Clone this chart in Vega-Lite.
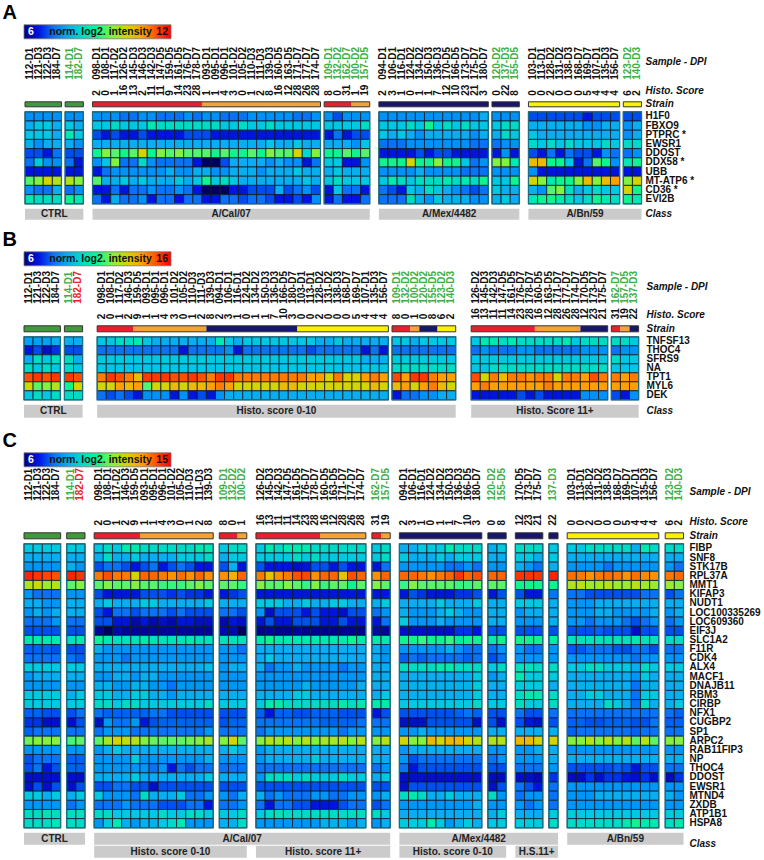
{"$schema":"https://vega.github.io/schema/vega-lite/v6.json","padding":{"left":2,"top":2.8,"right":0,"bottom":0},"background":"white",
"config":{"view":{"stroke":null},"axis":{"ticks":false,"domain":false,"grid":false,"title":null,"labelFont":"Liberation Sans","labelFontWeight":"bold","labelFontSize":10,"labelPadding":3,"labelColor":"#111","labelOverlap":false,"labelLimit":0},"text":{"font":"Liberation Sans","fontWeight":"bold","fontSize":10}},
"datasets":{
"sA":[{"s":"112-D1","st":"Ctrl","g":1,"c":"CTRL","t":"m"},{"s":"121-D3","st":"Ctrl","g":1,"c":"CTRL","t":"m"},{"s":"122-D3","st":"Ctrl","g":1,"c":"CTRL","t":"m"},{"s":"184-D7","st":"Ctrl","g":1,"c":"CTRL","t":"m"},{"s":"114-D1","st":"Ctrl","g":2,"c":"CTRL","t":"v"},{"s":"182-D7","st":"Ctrl","g":2,"c":"CTRL","t":"v"},
{"s":"098-D1","h":2,"st":"Cal-a","g":3,"c":"A/Cal/07","t":"m"},{"s":"108-D1","h":0,"st":"Cal-a","g":3,"c":"A/Cal/07","t":"m"},{"s":"117-D2","h":1,"st":"Cal-a","g":3,"c":"A/Cal/07","t":"m"},{"s":"126-D2","h":16,"st":"Cal-a","g":3,"c":"A/Cal/07","t":"m"},{"s":"145-D3","h":13,"st":"Cal-a","g":3,"c":"A/Cal/07","t":"m"},{"s":"146-D3","h":2,"st":"Cal-a","g":3,"c":"A/Cal/07","t":"m"},{"s":"142-D3","h":11,"st":"Cal-a","g":3,"c":"A/Cal/07","t":"m"},{"s":"147-D5","h":11,"st":"Cal-a","g":3,"c":"A/Cal/07","t":"m"},{"s":"159-D5","h":9,"st":"Cal-a","g":3,"c":"A/Cal/07","t":"m"},{"s":"161-D5","h":14,"st":"Cal-a","g":3,"c":"A/Cal/07","t":"m"},{"s":"176-D7","h":23,"st":"Cal-a","g":3,"c":"A/Cal/07","t":"m"},{"s":"178-D7","h":28,"st":"Cal-a","g":3,"c":"A/Cal/07","t":"m"},
{"s":"093-D1","h":1,"st":"Cal-b","g":3,"c":"A/Cal/07","t":"m"},{"s":"095-D1","h":1,"st":"Cal-b","g":3,"c":"A/Cal/07","t":"m"},{"s":"096-D1","h":4,"st":"Cal-b","g":3,"c":"A/Cal/07","t":"m"},{"s":"101-D2","h":3,"st":"Cal-b","g":3,"c":"A/Cal/07","t":"m"},{"s":"105-D2","h":0,"st":"Cal-b","g":3,"c":"A/Cal/07","t":"m"},{"s":"110-D3","h":1,"st":"Cal-b","g":3,"c":"A/Cal/07","t":"m"},{"s":"111-D3","h":2,"st":"Cal-b","g":3,"c":"A/Cal/07","t":"m"},{"s":"139-D3","h":8,"st":"Cal-b","g":3,"c":"A/Cal/07","t":"m"},{"s":"160-D5","h":16,"st":"Cal-b","g":3,"c":"A/Cal/07","t":"m"},{"s":"163-D5","h":12,"st":"Cal-b","g":3,"c":"A/Cal/07","t":"m"},{"s":"171-D7","h":28,"st":"Cal-b","g":3,"c":"A/Cal/07","t":"m"},{"s":"177-D7","h":26,"st":"Cal-b","g":3,"c":"A/Cal/07","t":"m"},{"s":"174-D7","h":28,"st":"Cal-b","g":3,"c":"A/Cal/07","t":"m"},
{"s":"109-D1","h":8,"st":"Cal-a","g":4,"c":"A/Cal/07","t":"v"},{"s":"132-D2","h":0,"st":"Cal-a","g":4,"c":"A/Cal/07","t":"v"},{"s":"162-D7","h":31,"st":"Cal-a","g":4,"c":"A/Cal/07","t":"v"},{"s":"100-D2","h":1,"st":"Cal-b","g":4,"c":"A/Cal/07","t":"v"},{"s":"157-D5","h":19,"st":"Cal-b","g":4,"c":"A/Cal/07","t":"v"},
{"s":"094-D1","h":2,"st":"Mex","g":5,"c":"A/Mex/4482","t":"m"},{"s":"106-D1","h":3,"st":"Mex","g":5,"c":"A/Mex/4482","t":"m"},{"s":"116-D1","h":1,"st":"Mex","g":5,"c":"A/Mex/4482","t":"m"},{"s":"124-D2","h":0,"st":"Mex","g":5,"c":"A/Mex/4482","t":"m"},{"s":"134-D2","h":1,"st":"Mex","g":5,"c":"A/Mex/4482","t":"m"},{"s":"150-D3","h":1,"st":"Mex","g":5,"c":"A/Mex/4482","t":"m"},{"s":"136-D3","h":7,"st":"Mex","g":5,"c":"A/Mex/4482","t":"m"},{"s":"170-D5","h":12,"st":"Mex","g":5,"c":"A/Mex/4482","t":"m"},{"s":"166-D5","h":10,"st":"Mex","g":5,"c":"A/Mex/4482","t":"m"},{"s":"173-D7","h":23,"st":"Mex","g":5,"c":"A/Mex/4482","t":"m"},{"s":"175-D7","h":21,"st":"Mex","g":5,"c":"A/Mex/4482","t":"m"},{"s":"180-D7","h":3,"st":"Mex","g":5,"c":"A/Mex/4482","t":"m"},
{"s":"120-D2","h":0,"st":"Mex","g":6,"c":"A/Mex/4482","t":"v"},{"s":"137-D3","h":22,"st":"Mex","g":6,"c":"A/Mex/4482","t":"v"},{"s":"155-D5","h":8,"st":"Mex","g":6,"c":"A/Mex/4482","t":"v"},
{"s":"103-D1","h":0,"st":"Bn","g":7,"c":"A/Bn/59","t":"m"},{"s":"113-D1","h":0,"st":"Bn","g":7,"c":"A/Bn/59","t":"m"},{"s":"128-D2","h":2,"st":"Bn","g":7,"c":"A/Bn/59","t":"m"},{"s":"131-D2","h":0,"st":"Bn","g":7,"c":"A/Bn/59","t":"m"},{"s":"138-D3","h":0,"st":"Bn","g":7,"c":"A/Bn/59","t":"m"},{"s":"168-D7","h":0,"st":"Bn","g":7,"c":"A/Bn/59","t":"m"},{"s":"169-D7","h":5,"st":"Bn","g":7,"c":"A/Bn/59","t":"m"},{"s":"107-D1","h":4,"st":"Bn","g":7,"c":"A/Bn/59","t":"m"},{"s":"135-D3","h":4,"st":"Bn","g":7,"c":"A/Bn/59","t":"m"},{"s":"156-D7","h":4,"st":"Bn","g":7,"c":"A/Bn/59","t":"m"},
{"s":"123-D2","h":6,"st":"Bn","g":8,"c":"A/Bn/59","t":"v"},{"s":"140-D3","h":2,"st":"Bn","g":8,"c":"A/Bn/59","t":"v"}],
"sB":[{"s":"112-D1","st":"Ctrl","g":1,"c":"CTRL","t":"m"},{"s":"121-D3","st":"Ctrl","g":1,"c":"CTRL","t":"m"},{"s":"122-D3","st":"Ctrl","g":1,"c":"CTRL","t":"m"},{"s":"184-D7","st":"Ctrl","g":1,"c":"CTRL","t":"m"},{"s":"114-D1","st":"Ctrl","g":2,"c":"CTRL","t":"v"},{"s":"182-D7","st":"Ctrl","g":2,"c":"CTRL","t":"o"},
{"s":"098-D1","h":2,"st":"Cal-a","g":3,"c":"Histo. score 0-10","t":"m"},{"s":"108-D1","h":0,"st":"Cal-a","g":3,"c":"Histo. score 0-10","t":"m"},{"s":"117-D2","h":1,"st":"Cal-a","g":3,"c":"Histo. score 0-10","t":"m"},{"s":"146-D3","h":2,"st":"Cal-a","g":3,"c":"Histo. score 0-10","t":"m"},{"s":"159-D5","h":9,"st":"Cal-b","g":3,"c":"Histo. score 0-10","t":"m"},{"s":"093-D1","h":1,"st":"Cal-b","g":3,"c":"Histo. score 0-10","t":"m"},{"s":"095-D1","h":1,"st":"Cal-b","g":3,"c":"Histo. score 0-10","t":"m"},{"s":"096-D1","h":4,"st":"Cal-b","g":3,"c":"Histo. score 0-10","t":"m"},{"s":"101-D2","h":3,"st":"Cal-b","g":3,"c":"Histo. score 0-10","t":"m"},{"s":"105-D2","h":0,"st":"Cal-b","g":3,"c":"Histo. score 0-10","t":"m"},{"s":"110-D3","h":1,"st":"Cal-b","g":3,"c":"Histo. score 0-10","t":"m"},{"s":"111-D3","h":2,"st":"Cal-b","g":3,"c":"Histo. score 0-10","t":"m"},{"s":"139-D3","h":8,"st":"Mex","g":3,"c":"Histo. score 0-10","t":"m"},
{"s":"094-D1","h":2,"st":"Mex","g":3,"c":"Histo. score 0-10","t":"m"},{"s":"106-D1","h":3,"st":"Mex","g":3,"c":"Histo. score 0-10","t":"m"},{"s":"116-D1","h":1,"st":"Mex","g":3,"c":"Histo. score 0-10","t":"m"},{"s":"124-D2","h":0,"st":"Mex","g":3,"c":"Histo. score 0-10","t":"m"},{"s":"134-D2","h":1,"st":"Mex","g":3,"c":"Histo. score 0-10","t":"m"},{"s":"150-D3","h":1,"st":"Mex","g":3,"c":"Histo. score 0-10","t":"m"},{"s":"136-D3","h":7,"st":"Mex","g":3,"c":"Histo. score 0-10","t":"m"},{"s":"166-D5","h":10,"st":"Mex","g":3,"c":"Histo. score 0-10","t":"m"},{"s":"180-D7","h":3,"st":"Mex","g":3,"c":"Histo. score 0-10","t":"m"},
{"s":"103-D1","h":0,"st":"Bn","g":3,"c":"Histo. score 0-10","t":"m"},{"s":"113-D1","h":0,"st":"Bn","g":3,"c":"Histo. score 0-10","t":"m"},{"s":"128-D2","h":2,"st":"Bn","g":3,"c":"Histo. score 0-10","t":"m"},{"s":"131-D2","h":0,"st":"Bn","g":3,"c":"Histo. score 0-10","t":"m"},{"s":"138-D3","h":0,"st":"Bn","g":3,"c":"Histo. score 0-10","t":"m"},{"s":"168-D7","h":0,"st":"Bn","g":3,"c":"Histo. score 0-10","t":"m"},{"s":"169-D7","h":5,"st":"Bn","g":3,"c":"Histo. score 0-10","t":"m"},{"s":"107-D1","h":4,"st":"Bn","g":3,"c":"Histo. score 0-10","t":"m"},{"s":"135-D3","h":4,"st":"Bn","g":3,"c":"Histo. score 0-10","t":"m"},{"s":"156-D7","h":4,"st":"Bn","g":3,"c":"Histo. score 0-10","t":"m"},
{"s":"109-D1","h":8,"st":"Cal-a","g":4,"c":"Histo. score 0-10","t":"v"},{"s":"132-D2","h":0,"st":"Cal-a","g":4,"c":"Histo. score 0-10","t":"v"},{"s":"100-D2","h":1,"st":"Cal-b","g":4,"c":"Histo. score 0-10","t":"v"},{"s":"120-D2","h":0,"st":"Mex","g":4,"c":"Histo. score 0-10","t":"v"},{"s":"155-D5","h":8,"st":"Mex","g":4,"c":"Histo. score 0-10","t":"v"},{"s":"123-D2","h":6,"st":"Bn","g":4,"c":"Histo. score 0-10","t":"v"},{"s":"140-D3","h":2,"st":"Bn","g":4,"c":"Histo. score 0-10","t":"v"},
{"s":"126-D2","h":16,"st":"Cal-a","g":5,"c":"Histo. Score 11+","t":"m"},{"s":"145-D3","h":13,"st":"Cal-a","g":5,"c":"Histo. Score 11+","t":"m"},{"s":"142-D3","h":11,"st":"Cal-a","g":5,"c":"Histo. Score 11+","t":"m"},{"s":"147-D5","h":11,"st":"Cal-a","g":5,"c":"Histo. Score 11+","t":"m"},{"s":"161-D5","h":14,"st":"Cal-a","g":5,"c":"Histo. Score 11+","t":"m"},{"s":"176-D7","h":23,"st":"Cal-a","g":5,"c":"Histo. Score 11+","t":"m"},{"s":"178-D7","h":28,"st":"Cal-a","g":5,"c":"Histo. Score 11+","t":"m"},{"s":"160-D5","h":16,"st":"Cal-b","g":5,"c":"Histo. Score 11+","t":"m"},{"s":"163-D5","h":12,"st":"Cal-b","g":5,"c":"Histo. Score 11+","t":"m"},{"s":"171-D7","h":28,"st":"Cal-b","g":5,"c":"Histo. Score 11+","t":"m"},{"s":"177-D7","h":26,"st":"Cal-b","g":5,"c":"Histo. Score 11+","t":"m"},{"s":"174-D7","h":28,"st":"Cal-b","g":5,"c":"Histo. Score 11+","t":"m"},{"s":"170-D5","h":12,"st":"Mex","g":5,"c":"Histo. Score 11+","t":"m"},{"s":"173-D7","h":23,"st":"Mex","g":5,"c":"Histo. Score 11+","t":"m"},{"s":"175-D7","h":21,"st":"Mex","g":5,"c":"Histo. Score 11+","t":"m"},
{"s":"162-D7","h":31,"st":"Cal-a","g":6,"c":"Histo. Score 11+","t":"v"},{"s":"157-D5","h":19,"st":"Cal-b","g":6,"c":"Histo. Score 11+","t":"v"},{"s":"137-D3","h":22,"st":"Mex","g":6,"c":"Histo. Score 11+","t":"v"}],
"sC":[{"s":"112-D1","st":"Ctrl","g":1,"c":"CTRL","t":"m"},{"s":"121-D3","st":"Ctrl","g":1,"c":"CTRL","t":"m"},{"s":"122-D3","st":"Ctrl","g":1,"c":"CTRL","t":"m"},{"s":"184-D7","st":"Ctrl","g":1,"c":"CTRL","t":"m"},{"s":"114-D1","st":"Ctrl","g":2,"c":"CTRL","t":"v"},{"s":"182-D7","st":"Ctrl","g":2,"c":"CTRL","t":"o"},
{"s":"098-D1","h":2,"st":"Cal-a","g":3,"c":"A/Cal/07","d":"Histo. score 0-10","t":"m"},{"s":"108-D1","h":0,"st":"Cal-a","g":3,"c":"A/Cal/07","d":"Histo. score 0-10","t":"m"},{"s":"117-D2","h":1,"st":"Cal-a","g":3,"c":"A/Cal/07","d":"Histo. score 0-10","t":"m"},{"s":"146-D3","h":2,"st":"Cal-a","g":3,"c":"A/Cal/07","d":"Histo. score 0-10","t":"m"},{"s":"159-D5","h":9,"st":"Cal-a","g":3,"c":"A/Cal/07","d":"Histo. score 0-10","t":"m"},{"s":"093-D1","h":1,"st":"Cal-b","g":3,"c":"A/Cal/07","d":"Histo. score 0-10","t":"m"},{"s":"095-D1","h":1,"st":"Cal-b","g":3,"c":"A/Cal/07","d":"Histo. score 0-10","t":"m"},{"s":"096-D1","h":4,"st":"Cal-b","g":3,"c":"A/Cal/07","d":"Histo. score 0-10","t":"m"},{"s":"101-D2","h":3,"st":"Cal-b","g":3,"c":"A/Cal/07","d":"Histo. score 0-10","t":"m"},{"s":"105-D2","h":0,"st":"Cal-b","g":3,"c":"A/Cal/07","d":"Histo. score 0-10","t":"m"},{"s":"110-D3","h":1,"st":"Cal-b","g":3,"c":"A/Cal/07","d":"Histo. score 0-10","t":"m"},{"s":"111-D3","h":2,"st":"Cal-b","g":3,"c":"A/Cal/07","d":"Histo. score 0-10","t":"m"},{"s":"139-D3","h":8,"st":"Cal-b","g":3,"c":"A/Cal/07","d":"Histo. score 0-10","t":"m"},
{"s":"109-D1","h":8,"st":"Cal-a","g":4,"c":"A/Cal/07","d":"Histo. score 0-10","t":"v"},{"s":"132-D2","h":0,"st":"Cal-a","g":4,"c":"A/Cal/07","d":"Histo. score 0-10","t":"v"},{"s":"100-D2","h":1,"st":"Cal-b","g":4,"c":"A/Cal/07","d":"Histo. score 0-10","t":"v"},
{"s":"126-D2","h":16,"st":"Cal-a","g":5,"c":"A/Cal/07","d":"Histo. score 11+","t":"m"},{"s":"145-D3","h":13,"st":"Cal-a","g":5,"c":"A/Cal/07","d":"Histo. score 11+","t":"m"},{"s":"142-D3","h":11,"st":"Cal-a","g":5,"c":"A/Cal/07","d":"Histo. score 11+","t":"m"},{"s":"147-D5","h":11,"st":"Cal-a","g":5,"c":"A/Cal/07","d":"Histo. score 11+","t":"m"},{"s":"161-D5","h":14,"st":"Cal-a","g":5,"c":"A/Cal/07","d":"Histo. score 11+","t":"m"},{"s":"176-D7","h":23,"st":"Cal-a","g":5,"c":"A/Cal/07","d":"Histo. score 11+","t":"m"},{"s":"178-D7","h":28,"st":"Cal-a","g":5,"c":"A/Cal/07","d":"Histo. score 11+","t":"m"},{"s":"160-D5","h":16,"st":"Cal-b","g":5,"c":"A/Cal/07","d":"Histo. score 11+","t":"m"},{"s":"163-D5","h":12,"st":"Cal-b","g":5,"c":"A/Cal/07","d":"Histo. score 11+","t":"m"},{"s":"171-D7","h":28,"st":"Cal-b","g":5,"c":"A/Cal/07","d":"Histo. score 11+","t":"m"},{"s":"177-D7","h":26,"st":"Cal-b","g":5,"c":"A/Cal/07","d":"Histo. score 11+","t":"m"},{"s":"174-D7","h":28,"st":"Cal-b","g":5,"c":"A/Cal/07","d":"Histo. score 11+","t":"m"},
{"s":"162-D7","h":31,"st":"Cal-a","g":6,"c":"A/Cal/07","d":"Histo. score 11+","t":"v"},{"s":"157-D5","h":19,"st":"Cal-b","g":6,"c":"A/Cal/07","d":"Histo. score 11+","t":"v"},
{"s":"094-D1","h":2,"st":"Mex","g":7,"c":"A/Mex/4482","d":"Histo. score 0-10","t":"m"},{"s":"106-D1","h":3,"st":"Mex","g":7,"c":"A/Mex/4482","d":"Histo. score 0-10","t":"m"},{"s":"116-D1","h":1,"st":"Mex","g":7,"c":"A/Mex/4482","d":"Histo. score 0-10","t":"m"},{"s":"124-D2","h":0,"st":"Mex","g":7,"c":"A/Mex/4482","d":"Histo. score 0-10","t":"m"},{"s":"134-D2","h":1,"st":"Mex","g":7,"c":"A/Mex/4482","d":"Histo. score 0-10","t":"m"},{"s":"150-D3","h":1,"st":"Mex","g":7,"c":"A/Mex/4482","d":"Histo. score 0-10","t":"m"},{"s":"136-D3","h":7,"st":"Mex","g":7,"c":"A/Mex/4482","d":"Histo. score 0-10","t":"m"},{"s":"166-D5","h":10,"st":"Mex","g":7,"c":"A/Mex/4482","d":"Histo. score 0-10","t":"m"},{"s":"180-D7","h":3,"st":"Mex","g":7,"c":"A/Mex/4482","d":"Histo. score 0-10","t":"m"},
{"s":"120-D2","h":0,"st":"Mex","g":8,"c":"A/Mex/4482","d":"Histo. score 0-10","t":"v"},{"s":"155-D5","h":8,"st":"Mex","g":8,"c":"A/Mex/4482","d":"Histo. score 0-10","t":"v"},
{"s":"170-D5","h":12,"st":"Mex","g":9,"c":"A/Mex/4482","d":"H.S.11+","t":"m"},{"s":"173-D7","h":23,"st":"Mex","g":9,"c":"A/Mex/4482","d":"H.S.11+","t":"m"},{"s":"175-D7","h":21,"st":"Mex","g":9,"c":"A/Mex/4482","d":"H.S.11+","t":"m"},
{"s":"137-D3","h":22,"st":"Mex","g":10,"c":"A/Mex/4482","d":"H.S.11+","t":"v"},
{"s":"103-D1","h":0,"st":"Bn","g":11,"c":"A/Bn/59","t":"m"},{"s":"113-D1","h":0,"st":"Bn","g":11,"c":"A/Bn/59","t":"m"},{"s":"128-D2","h":2,"st":"Bn","g":11,"c":"A/Bn/59","t":"m"},{"s":"131-D2","h":0,"st":"Bn","g":11,"c":"A/Bn/59","t":"m"},{"s":"138-D3","h":0,"st":"Bn","g":11,"c":"A/Bn/59","t":"m"},{"s":"168-D7","h":0,"st":"Bn","g":11,"c":"A/Bn/59","t":"m"},{"s":"169-D7","h":5,"st":"Bn","g":11,"c":"A/Bn/59","t":"m"},{"s":"107-D1","h":4,"st":"Bn","g":11,"c":"A/Bn/59","t":"m"},{"s":"135-D3","h":4,"st":"Bn","g":11,"c":"A/Bn/59","t":"m"},{"s":"156-D7","h":4,"st":"Bn","g":11,"c":"A/Bn/59","t":"m"},
{"s":"123-D2","h":6,"st":"Bn","g":12,"c":"A/Bn/59","t":"v"},{"s":"140-D3","h":2,"st":"Bn","g":12,"c":"A/Bn/59","t":"v"}],
"hA":[
{"n":"H1F0","v":[7.5,7.5,7.5,7.5,7.5,7.5,7.5,7.5,7.5,7.2,7.2,7.5,7.5,7.2,7.2,7.2,7.5,7.2,7.5,7.5,7.2,7.2,7.2,7.5,7.5,7.5,7.5,7.5,7.2,7.2,7.5,7.5,6.9,7.5,7.5,7.5,7.5,7.5,7.5,7.5,7.5,7.5,7.5,7.5,7.5,7.5,7.5,7.8,7.5,7.5,7.5,6.9,6.9,6.9,6.9,6.9,6.9,6.6,6.9,6.9,6.9,6.9,6.9]},
{"n":"FBXO9","v":[7.8,8.1,8.1,7.8,8.1,7.8,8.1,8.1,8.4,8.1,8.1,8.1,8.7,8.4,8.4,8.4,8.4,8.4,8.4,8.4,8.1,8.1,8.4,8.1,8.1,8.4,8.1,8.1,8.1,8.1,8.1,8.1,8.1,8.1,8.1,8.4,8.1,8.1,8.1,8.4,8.1,9,8.1,8.4,8.1,8.4,8.1,8.1,8.1,8.4,8.4,7.8,7.8,7.8,7.8,7.8,7.8,7.5,7.5,7.8,7.8,7.5,7.8]},
{"n":"PTPRC *","v":[8.1,8.1,8.1,7.8,8.7,8.1,6.9,6.6,6.9,6.6,6.6,6.9,6.6,6.6,6.6,6.6,6.9,6.9,6.9,6.6,6.6,6.6,6.6,6.6,6.6,6.6,6.6,6.6,6.6,6.6,6.6,6.6,7.2,6.6,6.9,6.9,8.1,7.8,8.1,7.8,7.5,7.8,7.8,7.8,7.8,7.8,7.5,7.8,7.8,8.4,8.1,8.1,7.8,7.8,7.8,7.8,7.8,7.8,7.8,7.8,7.8,7.5,7.8]},
{"n":"EWSR1","v":[7.8,7.5,7.8,7.8,7.8,7.5,7.8,7.8,7.8,7.8,7.8,7.8,7.8,7.8,7.8,7.8,7.8,7.8,7.8,7.8,7.8,7.8,7.8,7.8,7.8,8.1,7.8,7.8,8.1,7.8,7.8,7.8,7.8,7.8,7.5,8.1,7.2,7.2,7.2,7.5,7.5,7.5,7.5,7.5,7.5,7.5,7.2,7.2,7.2,7.5,7.5,8.4,8.1,8.4,8.1,8.4,8.1,8.1,8.1,8.4,8.1,8.4,8.4]},
{"n":"DDOST","v":[6.9,6.9,6.6,7.2,6.9,6.9,9,9.6,9.3,9,9.3,10.2,9,9.6,9.3,9.6,9.3,9.3,9.3,9,9.3,9,9,9.3,9,9.6,9.3,9.3,10.2,8.4,9.6,9,9,9.3,9,9.3,6.6,6.6,6.6,6.6,6.9,6.6,6.9,6.9,6.6,6.6,6.6,6.6,6.6,7.5,6.6,6.9,6.6,7.2,6.6,7.2,6.9,6.9,6.6,7.5,7.2,7.2,7.5]},
{"n":"DDX58 *","v":[7.2,8.1,7.5,7.5,7.2,6.6,7.5,8.1,9.6,7.2,7.2,8.4,7.5,7.2,7.2,7.2,7.2,6.6,5.4,5.4,6.9,7.8,7.8,7.8,7.8,7.5,7.8,7.5,7.5,6.6,7.2,8.1,8.1,6.6,6.6,7.5,9,9,9,10.2,9,9,9.6,9,9,8.1,7.2,7.5,9.6,9.6,8.7,10.5,10.5,9,9,8.1,6.6,7.2,9.3,9,7.5,8.7,9]},
{"n":"UBB","v":[6.6,6.6,6.6,6.6,6.6,6.6,6.6,7.2,7.5,7.5,7.5,7.5,7.5,7.5,7.8,7.5,7.5,7.8,7.8,7.5,7.5,7.8,7.8,7.8,7.5,7.8,7.8,7.8,8.1,7.8,7.8,7.8,8.1,7.8,7.8,7.8,7.5,7.5,7.5,7.5,7.8,7.5,7.5,7.5,7.5,7.2,7.2,7.2,7.5,7.5,7.5,7.5,6.6,6.6,6.6,6.6,6.6,6.6,6.6,6.6,6.6,6.6,6.6]},
{"n":"MT-ATP6 *","v":[9.3,9.6,10.2,9.9,9.9,9.6,9.3,7.8,7.8,8.1,7.8,8.1,7.8,7.8,7.8,8.1,7.8,8.1,9,8.1,8.4,8.1,7.8,7.8,7.8,7.8,7.8,7.8,7.8,8.1,7.8,8.1,8.4,8.1,8.1,8.1,8.1,8.7,8.4,8.1,8.4,8.4,8.4,8.7,8.4,8.7,8.4,9,8.1,8.1,9,10.2,9.6,8.7,9,9,9.6,10.5,9.6,10.5,10.8,9.6,10.2]},
{"n":"CD36 *","v":[7.5,7.2,7.2,7.8,7.2,7.5,6.6,6.6,7.2,6.6,7.2,7.2,7.5,7.2,7.2,7.5,7.2,6.6,5.4,5.4,5.4,6.6,6.6,6.9,6.9,6.9,7.8,6.9,7.2,7.5,6.9,6.6,8.1,7.2,7.2,6.6,7.2,6.9,6.6,8.1,7.8,8.4,8.1,7.8,7.5,7.2,6.9,7.2,8.1,7.8,7.8,7.8,7.5,9.3,9.6,8.4,7.8,8.1,8.4,8.1,8.1,10.2,9]},
{"n":"EVI2B","v":[8.7,8.4,8.4,8.4,9,8.7,7.2,6.6,7.8,7.2,7.2,7.5,6.6,7.2,7.2,6.6,7.2,7.2,6.6,6.6,7.2,7.2,6.9,7.2,7.2,6.9,6.6,6.6,6.9,6.6,7.5,6.6,7.2,6.6,6.6,7.2,7.2,7.2,7.2,8.4,7.8,7.5,8.1,7.8,7.8,7.8,7.5,7.5,7.8,8.1,7.8,8.7,9,9,8.7,8.4,8.1,8.4,9,8.7,8.4,9,8.7]}],
"hB":[
{"n":"TNFSF13","v":[8.8,8.8,8.8,9,9,9,9.5,9.5,10,10,10.5,9.5,9,9,9,9,9,9,9,10.5,9.5,9,9.5,9.5,9.5,9.5,9.5,9.5,9.5,9.5,9,9,9.5,9,9,9,9,9,9.5,9.5,9,9.5,9.5,9.5,9.5,9.5,10.5,10.5,10,10.5,10,10,10,10,10,10.5,9.5,10,10,10,10,10,9.5]},
{"n":"THOC4","v":[7,7.5,6.8,7.2,7.5,7.5,8,8,8,8,8,8,8,8,8,7,8,8,8,8,8.5,7,8,8,8,8,8,8,8,7.5,8,8,8,8,8,7,8,7,8,8,8,8,8,8,8,8,8.5,8,8,8,8.5,8.5,8,8,8,8,8,8.5,8.5,8.5,8,8.5,8.5]},
{"n":"SFRS9","v":[9,10,9.5,10,10,9,9.5,9.5,9.5,9.5,9.5,9.5,9.5,9.5,9.5,9.5,9.5,9.5,9.5,9.5,9.5,9.5,9.5,9.5,9.5,9.5,9.5,9.5,9.5,9.5,9.5,9.5,9.5,9.5,9.5,9,9,9,9.5,9.5,9.5,9.5,9.5,9.5,9.5,9.5,9.5,9.5,9.5,9.5,9.5,9.5,9.5,9.5,9.5,9.5,9.5,9.5,9.5,9.5,10,9.5,9.5]},
{"n":"NA","v":[10,9.5,10,9.5,10,9.5,9.5,9.5,9.5,9.5,9.5,9.5,9.5,9.5,9.5,9.5,9.5,9.5,9.5,9.5,9.5,9.5,9.5,9.5,9.5,9.5,9.5,9.5,9.5,9.5,9.5,9.5,9.5,9.5,9.5,9.5,9.5,9.5,10,10,10,10,10,10,10,9.5,9.5,10,10,10,10,10,10,10,10,10,10,10,10,10,9.5,9.5,9.5]},
{"n":"TPT1","v":[15,15.5,15,15.5,15.5,15,14.5,15.5,15,14.5,13.5,15.5,15.5,15.5,15,15,15.5,15,14.5,15.5,15.5,14.5,14.5,14.5,14.5,14.5,14.5,14.5,14.5,14,14,13,14.5,13,13,14,14.5,14,15.2,14,15.5,15.5,14.5,14,14,15,13,14.5,13.5,14.5,14.5,14.2,14.5,14.5,13,14.5,14.5,14,15,14.5,14.5,14,14.5]},
{"n":"MYL6","v":[13,11.5,12,12.5,11,13,13,13,14,13.5,14,11.5,13,13,13.5,13,13.5,13.5,14,14.5,14,13,13,13,13,13,13.5,13.5,13,13,13,13,13,13,13,13,13.5,13,13.5,14,13,14,14.5,13.5,13,14,14.5,14,14,14,14,14,14,14.5,14,14,14,14,14,14,14,14,14]},
{"n":"DEK","v":[9.5,10,9.5,10,10,10,8,7.5,8,7.5,7,8.5,8.5,8.5,7,8.5,7,7.5,7,8.5,9,9,9,9,9,9,9,9,9,9,9,9,9,9,9,9,9,9,7,8,8,8.5,8.5,9,9,7,7,7,7,7,7.5,7,7.5,7,7,7,7,8.5,8.5,8.5,7.5,7,8.5]}],
"hC":[
{"n":"FIBP","v":[9.2,9.2,9.2,9.2,9.2,9.2,9.2,9.6,9.2,10.1,10.1,9.6,9.6,9.6,9.6,9.6,9.6,10.1,10.1,9.2,9.6,9.6,9.2,10.1,9.6,10.1,10.1,10.1,9.6,9.6,9.6,9.6,9.6,9.6,9.2,9.6,8.7,8.7,9.2,9.2,9.2,10.1,9.6,9.6,9.6,8.7,9.2,9.6,9.6,9.6,9.2,9.2,9.2,9.6,9.6,9.6,9.6,9.6,8.7,10.1,9.6,9.6,9.6]},
{"n":"SNF8","v":[8.7,8.7,8.7,8.7,8.7,8.7,8.7,9.6,8.7,8.7,9.2,8.7,8.7,8.7,8.7,9.2,9.2,9.2,9.6,8.7,9.2,9.2,9.2,9.2,9.2,9.2,9.6,9.2,9.6,9.2,9.2,9.2,9.2,9.2,9.2,9.6,9.2,8.7,8.7,8.7,9.2,8.7,9.2,9.2,9.2,8.7,8.7,9.2,9.2,8.7,9.2,8.7,8.7,8.7,8.7,8.7,8.7,8.7,8.7,8.7,8.7,8.7,8.7]},
{"n":"STK17B","v":[8.3,8.3,8.3,8.3,8.7,8.3,7.4,7.8,7.8,7.4,6.9,7.4,7.8,6.9,7.4,7.8,7.4,6.9,6.9,7.4,8.7,6.9,7.4,6.9,6.9,6.9,6.7,6.9,7.4,7.4,6.9,7.4,6.9,6.9,6.9,7.8,8.3,8.3,8.3,8.3,8.3,7.8,7.8,8.3,7.8,8.3,8.3,8.7,8.3,7.8,8.7,8.3,8.3,8.3,8.3,7.8,8.3,8.3,8.3,8.3,8.3,8.3,7.8]},
{"n":"RPL37A","v":[14.8,14.6,14.3,14.1,14.8,14.6,13.7,14.1,13.7,13.7,12.3,13.9,13.9,13.7,13.4,13.8,13.4,13.9,13.4,13.4,12.9,13.9,13.7,12.6,13.4,13.7,14.1,14.3,13.4,13.9,13.9,12.6,14.1,13.9,13.4,13.9,13.9,13.9,13.7,13.4,13.7,13.9,14.6,13.9,14.1,13.9,13.9,14.6,14.6,14.6,14.8,13.8,13.7,13.4,13.7,13.8,13.7,13.4,13.8,13.5,13.4,13.7,13.9]},
{"n":"MMT1","v":[11.9,12.1,11.6,11.9,11,11.4,11,11.4,11,11,11.4,11,11,10.7,10.7,10.7,11,11.4,11,11,11,10.7,11.4,11,11,11.4,11,10.7,11.4,10.7,11,11,10.5,11,11.4,11,10.7,11.4,11,11,11,11,10.7,10.7,11,11,11,10.5,10.5,10.5,10.5,11.9,11.9,11.6,11.7,11.9,11.6,11.6,11.9,11.6,11.6,11.6,11.4]},
{"n":"KIFAP3","v":[8.3,7.8,7.8,7.8,8.3,8.3,7.4,6.9,6.9,6.9,6.9,7.4,7.4,7.4,7.1,7.4,7.1,7.1,6.9,6.9,7.1,7.4,6.9,6.9,6.9,6.9,6.9,6.9,6.9,6.9,6.9,6.9,6.9,6.9,6.9,6.9,6.9,7.4,7.1,6.9,6.9,6.9,7.1,7.1,7.4,6.9,7.4,7.4,6.9,6.9,7.8,7.8,7.8,7.4,7.4,7.4,7.4,7.4,7.4,7.8,7.8,7.4,7.8]},
{"n":"NUDT1","v":[8.7,8.7,8.3,8.3,8.7,8.7,8.7,9.2,8.7,8.7,8.7,9.2,9.2,8.7,8.7,8.7,8.7,8.7,9.2,8.7,8.7,8.7,9.2,9.2,9.2,8.7,8.7,9.2,8.7,8.7,9.2,9.2,8.7,8.7,8.7,9.2,8.7,8.7,8.7,8.7,9.2,8.7,8.7,8.7,9.2,8.7,8.7,9.2,9.2,9.2,8.7,8.3,8.3,8.3,8.7,8.7,8.7,8.7,8.7,8.7,8.7,8.7,8.7]},
{"n":"LOC100335269","v":[8.3,8.7,8.3,8.7,8.7,8.7,7.4,6.9,7.8,7.8,7.4,7.8,7.8,7.8,7.4,7.8,7.4,7.4,7.4,7.8,7.8,7.4,8.3,6.7,7.4,7.4,7.4,6.9,7.4,6.9,6.9,6.7,7.4,7.4,7.8,8.3,8.7,8.3,8.3,8.3,8.7,9.2,8.7,8.3,8.3,8.7,8.7,8.3,8.7,8.7,8.7,8.3,8.3,8.3,8.7,8.7,8.3,8.3,8.3,8.3,8.7,8.3,8.7]},
{"n":"LOC609360","v":[7.8,7.8,7.8,8.3,7.8,7.8,7.4,7.4,6.9,6.9,6.5,6.9,6.5,6.7,6.5,6.9,6.9,6.7,6.7,6.5,6.9,6.7,6.9,7.4,6.9,6.9,7.4,7.4,7.4,6.9,6.9,7.4,6.9,6.9,6.9,7.8,9.2,8.3,8.3,8.3,8.7,8.3,8.3,8.3,8.3,8.7,8.7,8.3,8.3,8.3,8.7,8.3,8.3,7.8,8.3,8.3,8.3,7.8,7.4,7.8,8.3,7.8,8.3]},
{"n":"EIF3J","v":[7.4,7.4,7.4,7.4,7.4,7.4,6.3,5.4,6.5,6.3,6.3,6.3,6.3,6.3,6.3,6.3,6.3,6.3,6.3,6.5,6.5,5.4,6.2,6.3,6.2,6.2,6.3,6.2,6.2,6.2,6.2,6.2,6.2,6.2,6.5,6.3,6.7,6.7,6.7,6.7,6.7,6.7,7.1,7.1,6.9,7.4,7.4,7.4,7.4,7.4,7.4,7.4,7.4,7.4,7.6,7.4,7.4,7.4,6.7,7.4,7.4,7.4,7.4]},
{"n":"SLC1A2","v":[10.1,10.1,10.1,10.1,9.8,10.1,10.5,10.1,9.8,9.8,9.8,10.1,9.8,9.8,9.8,9.8,10.1,9.8,9.8,9.8,9.8,9.8,10.1,10.5,10.1,10.1,10.1,10.1,10.1,10.1,10.1,10.1,10.5,10.1,10.1,10.1,10.5,10.5,10.7,10.5,10.5,10.7,10.3,10.5,10.5,10.1,10.5,10.5,10.5,10.5,10.2,9.8,9.8,9.8,9.8,9.8,9.8,9.8,10.1,9.8,9.8,9.6,9.6]},
{"n":"F11R","v":[7.6,7.6,7.6,7.4,7.4,7.4,8.7,8.3,8.3,8.3,8.3,8.3,8.3,8.3,8.3,8.3,8.3,8.3,8.3,8.3,8.3,7.8,8.7,8.7,8.7,8.7,8.7,8.7,8.7,8.7,8.7,8.7,8.7,8.7,8.7,8.3,8.3,8.3,8.3,8.3,8.3,8.7,8.3,7.8,7.8,7.8,8.3,8.3,7.8,7.8,8.3,7.5,7.5,7.8,7.8,7.8,7.5,7.4,7.8,7.8,7.4,7.8,7.8]},
{"n":"CDK4","v":[7.8,7.8,7.8,7.8,7.8,7.6,8.3,8.3,8.3,7.8,8.3,8.3,8.3,8.3,8.3,8.3,8.3,8.3,8.3,8.3,8.3,8.3,8.7,9.2,8.7,8.7,8.7,8.7,8.7,8.7,8.7,8.7,8.7,8.7,8.7,8.3,7.6,7.8,7.6,7.8,7.8,7.8,7.8,7.6,7.8,7.4,7.8,8.3,8.3,8.3,8.3,8.3,8.3,8.3,8.3,8.3,8.3,8.3,7.8,8.3,8.3,8.3,8.3]},
{"n":"ALX4","v":[9.3,9.2,9.2,9.2,9.2,9.2,8.7,8.7,8.7,8.7,8.7,8.7,8.7,8.7,8.7,8.7,8.7,8.7,9,8.3,8.7,8.7,8.7,7.8,8.3,8.3,8.7,8.3,8.3,8.3,8.3,7.8,8.3,8.3,8.7,8.7,9.6,9.6,9.6,9.6,10.1,10.1,9.6,9.6,9.6,9.2,9.6,9.8,9.8,9.6,9.6,9.2,9.2,9.6,9.6,9.2,9.2,9.2,8.7,9.6,9.2,9.2,9.2]},
{"n":"MACF1","v":[8.3,8.7,8.7,8.7,8.7,8.7,8.3,8.3,8.7,8.7,8.3,8.7,8.7,8.3,8.3,8.3,8.3,8.3,8.3,8.3,8.3,8.3,8.3,8.3,8.3,8.3,8.3,8.3,8.3,8.3,8.3,8.3,8.3,8.3,8.7,8.7,8.7,8.7,8.7,8.7,8.7,8.7,8.7,8.7,9.2,8.3,8.7,10.1,9.2,9.2,9.2,8.7,8.7,8.7,8.7,8.7,8.7,8.7,8.3,9.2,8.7,8.7,8.7]},
{"n":"DNAJB11","v":[8.3,8.3,8.3,8.3,8.3,8.3,8.7,8.7,8.3,8.3,8.7,8.7,8.3,8.3,7.8,8.3,8.3,8.3,8.3,8.3,8.3,8.3,8.3,8.3,8.3,8.3,8.3,8.7,8.3,8.3,8.3,8.3,8.3,8.7,8.7,8.7,8.7,8.7,8.7,8.7,8.7,8.7,8.7,8.7,9.2,8.7,8.7,9.2,9.2,9.2,8.7,8.7,8.7,8.7,8.7,8.7,8.7,8.7,7.8,8.7,8.7,8.7,8.7]},
{"n":"RBM3","v":[9.2,9.2,9.2,9.2,8.7,9.2,9.2,9.2,8.7,8.7,9.2,9.2,8.7,8.7,8.3,8.7,8.7,8.7,8.7,8.7,8.7,8.7,8.7,8.7,8.7,8.7,9.2,9.2,8.7,8.7,8.7,8.7,8.7,8.7,8.7,9.2,8.7,8.7,8.7,8.7,8.7,8.7,8.7,8.7,9.2,8.7,8.7,9.6,10.1,10.1,9.6,8.7,8.7,9.2,9.2,8.7,8.7,8.7,7.8,9.2,9.2,8.7,8.7]},
{"n":"CIRBP","v":[9.2,9.2,9.2,9.2,9.2,9.2,9.6,9.6,9.2,9.6,9.6,9.2,9.2,9.2,9.2,9.2,9.2,9.2,9.6,9.2,9.2,9.2,9.2,10.1,10.1,9.6,9.6,9.6,9.6,9.6,9.6,10.1,9.6,10.1,10.1,10.1,9.2,9.2,9.2,9.2,9.2,9.2,9.2,9.2,9.6,9.2,9.2,9.6,9.2,9.2,9.6,8.7,8.7,8.7,8.7,9.6,9.2,8.7,7.8,9.6,8.7,8.7,9.2]},
{"n":"NFX1","v":[7.6,7.6,7.4,7.4,7.4,7.8,7.8,7.6,7.6,7.6,7.6,7.6,7.8,7.8,7.4,7.4,7.4,7.4,7.4,7.4,7.4,7.4,7.6,6.9,7.6,7.6,7.4,7.4,7.6,7.6,7.6,7.4,7.4,7.4,6.9,7.4,7.4,7.4,7.4,7.4,7.4,7.4,7.6,7.8,7.6,7.4,7.4,7.8,7.4,7.4,7.8,7.8,7.8,7.8,7.8,7.8,7.8,7.8,7.8,7.8,7.8,7.8,7.6]},
{"n":"CUGBP2","v":[7.1,7.1,6.7,6.7,6.7,7.4,6.7,8.3,7.8,7.8,8.3,6.9,7.4,7.6,7.6,7.6,7.6,7.6,7.6,7.4,7.6,7.6,7.8,7.8,7.8,7.8,7.8,7.8,7.8,7.6,7.6,7.6,7.6,7.8,7.8,7.8,6.7,6.7,6.7,7.4,7.4,7.4,7.4,7.4,6.7,7.4,6.7,7.4,6.9,6.7,7.4,7.6,7.6,7.4,7.4,7.6,7.6,7.6,7.4,7.4,7.8,7.6,7.6]},
{"n":"SP1","v":[7.6,7.8,7.8,7.8,7.8,7.8,7.8,8.3,8.3,8.3,7.8,7.8,7.8,7.8,7.8,7.8,7.8,7.8,8.3,7.8,7.8,7.8,7.8,8.3,8.3,8.3,8.3,8.3,8.3,8.3,8.3,7.8,8.3,8.3,8.3,8.3,8.3,8.3,8.7,8.3,8.3,8.3,8.3,8.3,8.3,8.7,8.7,8.7,8.7,8.7,8.7,7.6,7.8,7.8,7.8,7.8,7.8,7.8,7.6,7.8,7.8,7.8,7.8]},
{"n":"ARPC2","v":[11.2,11.4,11.4,11.4,10.8,11,11,11.7,12.3,12,11.9,11.4,11.1,11,11,11,11.2,11.4,11.7,11.4,12.3,11,11.4,11.9,11.6,11.9,11.4,11.9,11.4,11.7,11.7,11.9,11.4,11.9,11.4,11.9,12.3,11.4,11.4,12.8,12.3,12.8,12.8,12.3,11.9,11.9,11.9,12.8,12.8,12.3,12.3,11.4,11.4,11.9,11.4,11.9,11.4,11.9,11,11.9,11,11.4,11.4]},
{"n":"RAB11FIP3","v":[8.3,8.3,8.3,8.3,8.3,8.3,8.3,8.7,9.2,8.7,8.7,8.7,8.7,8.7,8.7,8.7,8.7,8.7,8.7,8.7,9.2,8.7,8.3,8.7,8.7,8.7,8.7,8.7,8.7,8.7,8.7,8.7,8.7,8.7,8.7,8.7,8.3,8.7,8.7,8.7,8.7,8.7,8.7,8.7,8.7,8.3,8.3,8.3,8.3,8.7,8.7,8.3,8.3,8.3,8.3,8.3,8.3,8.3,8.3,8.3,8.3,8.3,8.3]},
{"n":"NP","v":[7.4,7.8,7.8,7.8,7.6,7.6,8.3,8.3,8.3,8.3,9.2,8.3,8.3,8.3,8.3,8.3,8.3,8.3,8.7,8.3,8.3,8.3,8.3,8.7,8.7,8.7,8.7,8.7,9.2,8.7,8.7,8.7,8.7,8.7,8.7,8.7,8.3,7.4,7.8,7.8,7.8,7.8,7.8,7.8,7.8,7.8,8.3,8.3,8.3,8.3,8.7,8.7,8.7,8.7,8.7,8.7,8.7,8.7,8.7,8.7,8.7,8.7,8.7]},
{"n":"THOC4","v":[7.4,7.8,6.9,7.4,7.6,7.6,8.3,8.3,8.3,8.3,8.3,8.3,7.8,8.3,6.9,7.8,7.4,7.8,7.8,7.8,7.8,7.8,7.8,7.8,7.8,7.8,7.8,7.8,7.8,7.8,7.8,7.8,7.8,7.8,7.8,8.3,7.8,6.9,7.4,7.4,7.4,7.4,7.4,7.4,7.4,7.4,7.4,7.8,7.8,7.8,8.3,7.4,7.4,7.4,7.4,7.4,7.6,7.4,6.9,7.4,7.4,7.8,7.8]},
{"n":"DDOST","v":[6.7,6.7,6.7,6.7,6.7,6.7,8.7,8.7,8.7,8.7,9.2,8.7,8.7,8.7,8.7,8.7,8.7,8.7,9.2,8.7,8.7,8.7,8.3,9.6,9.6,9.6,9.2,9.6,9.2,9.2,9.2,9.6,9.2,9.2,8.7,9.2,6.7,6.7,6.7,6.7,6.7,6.7,6.7,6.7,6.7,6.6,6.6,6.7,6.7,6.5,7.1,6.6,6.6,7.1,6.7,7.1,7.1,6.9,6.7,7.1,6.7,6.6,7.1]},
{"n":"EWSR1","v":[6.7,7.4,6.7,7.4,6.7,7.4,7.4,7.4,7.8,7.8,7.4,7.4,6.7,7.4,7.4,7.4,7.4,7.4,7.4,7.4,7.4,7.4,7.4,7.4,7.4,7.4,7.4,7.4,7.4,7.4,7.4,7.4,7.4,7.4,7.4,7.4,6.7,7.4,7.4,7.4,7.4,7.4,7.4,7.4,7.4,6.7,7.4,7.8,7.4,6.9,7.8,8.3,8.3,8.3,8.3,8.3,8.3,8.3,8.3,8.3,8.3,8.3,8.3]},
{"n":"MTND4","v":[9.2,9.2,8.7,9.2,8.7,9.2,9.2,8.3,8.3,8.3,7.8,9.6,8.7,8.7,8.7,9.2,7.8,7.8,8.3,8.3,7.8,8.7,8.7,7.8,8.3,7.8,7.8,7.8,8.3,8.3,7.8,7.8,8.3,8.3,8.3,8.7,9.6,10.1,9.6,8.7,8.7,9.2,8.7,8.7,8.7,9.6,8.3,7.8,8.3,8.3,7.8,8.3,8.3,8.3,8.7,8.7,8.7,8.7,8.7,8.7,8.7,8.7,8.3]},
{"n":"ZXDB","v":[8.3,8.3,8.3,8.3,7.8,8.3,7.8,7.8,7.8,8.3,7.8,7.8,7.8,7.4,7.4,7.4,7.8,7.8,6.9,7.8,7.8,8.3,7.8,6.9,7.8,7.8,7.4,7.4,6.9,6.9,6.9,7.4,7.8,7.8,7.4,7.8,8.3,8.3,8.3,8.3,8.3,8.3,8.3,8.3,8.7,8.3,8.3,8.3,7.8,8.3,7.8,8.3,8.3,8.3,8.3,8.3,8.3,8.3,8.3,8.3,8.3,8.3,8.3]},
{"n":"ATP1B1","v":[9.6,9.6,9.8,9.6,9.6,9.8,9.6,9.6,9.2,9.2,9.2,9.2,9.2,9.6,9.2,9.2,9.6,9.6,9.2,9.2,9.2,9.6,9.2,9.6,9.8,9.6,9.6,9.6,9.6,9.6,9.6,9.6,9.6,9.6,9.6,9.2,8.7,8.7,8.7,8.7,8.7,8.7,8.7,8.7,8.7,8.7,9.2,8.7,8.7,8.7,9.2,9.2,9.2,9.2,9.2,9.2,9.2,9.2,9.2,9.2,9.2,9.2,9.2]},
{"n":"HSPA8","v":[9.6,9.6,9.6,9.8,9.6,9.6,8.3,9.2,10.1,8.7,8.3,8.7,8.7,9.2,9.6,10.1,8.3,8.3,8.3,8.7,8.7,9.6,8.3,8.3,8.3,8.3,8.3,8.3,8.3,8.7,8.7,8.7,8.3,8.7,8.3,8.7,9.2,9.2,9.2,10.1,9.2,8.3,8.7,9.2,8.7,9.2,9.2,9.2,9.2,9.2,9.6,9.6,9.6,9.6,9.6,9.6,9.6,10.1,10.5,10.1,10.1,9.6,10.1]}]
},
"bounds":"flush","spacing":5,"vconcat":[
{"width":147,"height":14,"title":{"text":"A","anchor":"start","dx":-21,"offset":1.5,"fontSize":20,"font":"Liberation Sans","fontWeight":"bold","color":"#000"},"data":{"values":[{"lo":6,"hi":12}]},"transform":[{"calculate":"(datum.lo+datum.hi)/2","as":"mid"}],"encoding":{"x":{"field":"lo","type":"quantitative","scale":{"domain":[6,12],"nice":false,"zero":false},"axis":null}},"layer":[
{"mark":{"type":"rect","stroke":"#777","strokeWidth":0.8,"fill":{"gradient":"linear","x1":0,"y1":0,"x2":1,"y2":0,"stops":[{"offset":0,"color":"#00007a"},{"offset":0.1,"color":"#0014e0"},{"offset":0.2,"color":"#0a72f6"},{"offset":0.3,"color":"#08aef0"},{"offset":0.4,"color":"#00dcc4"},{"offset":0.5,"color":"#10f490"},{"offset":0.6,"color":"#84f040"},{"offset":0.7,"color":"#d4d400"},{"offset":0.8,"color":"#ffa000"},{"offset":0.9,"color":"#ff5000"},{"offset":1,"color":"#ff0000"}]}},"encoding":{"x2":{"field":"hi"}}},
{"mark":{"type":"text","align":"left","dx":4,"color":"white","fontSize":10.5},"encoding":{"text":{"field":"lo"}}},
{"mark":{"type":"text","align":"center","dx":3,"fontSize":10.5,"color":"#111"},"encoding":{"x":{"field":"mid","type":"quantitative"},"text":{"value":"norm. log2. intensity"}}},
{"mark":{"type":"text","align":"right","dx":-3,"fontSize":10.5,"color":"#111"},"encoding":{"x":{"field":"hi","type":"quantitative"},"text":{"field":"hi"}}}]},
{"width":618,"height":36,"data":{"name":"sA"},"transform":[{"window":[{"op":"row_number","as":"i"}]},{"calculate":"datum.i-.5+.4*(datum.i>4)+(datum.i>6)+.4*(datum.i>31)+(datum.i>36)+.4*(datum.i>48)+(datum.i>51)+.4*(datum.i>61)","as":"xm"}],"mark":{"type":"text","angle":270,"align":"left","baseline":"middle"},"encoding":{"x":{"field":"xm","type":"quantitative","scale":{"domain":[-0.11,67.65],"nice":false,"zero":false},"axis":null},"y":{"datum":"Sample - DPI","type":"nominal","bandPosition":1,"scale":{"type":"band","domain":["Sample - DPI"],"paddingInner":0,"paddingOuter":0},"axis":{"orient":"right","labelFontStyle":"italic"}},"text":{"field":"s"},"color":{"field":"t","type":"nominal","scale":{"domain":["m","v","o"],"range":["#111111","#3fae49","#ed2024"]},"legend":null}}},
{"width":618,"height":12,"data":{"name":"sA"},"transform":[{"window":[{"op":"row_number","as":"i"}]},{"calculate":"datum.i-.5+.4*(datum.i>4)+(datum.i>6)+.4*(datum.i>31)+(datum.i>36)+.4*(datum.i>48)+(datum.i>51)+.4*(datum.i>61)","as":"xm"},{"filter":"isValid(datum.h)"}],"mark":{"type":"text","angle":270,"align":"left","baseline":"middle","color":"#111"},"encoding":{"x":{"field":"xm","type":"quantitative","scale":{"domain":[-0.11,67.65],"nice":false,"zero":false},"axis":null},"y":{"datum":"Histo. Score","type":"nominal","bandPosition":0.92,"scale":{"type":"band","domain":["Histo. Score"],"paddingInner":0,"paddingOuter":0},"axis":{"orient":"right","labelFontStyle":"italic"}},"text":{"field":"h","type":"nominal"}}},
{"width":618,"height":5,"data":{"name":"sA"},"transform":[{"window":[{"op":"row_number","as":"i"}]},{"calculate":"datum.i-1+.4*(datum.i>4)+(datum.i>6)+.4*(datum.i>31)+(datum.i>36)+.4*(datum.i>48)+(datum.i>51)+.4*(datum.i>61)","as":"x"},{"calculate":"datum.x+1","as":"xe"}],"encoding":{"y":{"datum":"Strain","type":"nominal","scale":{"type":"band","domain":["Strain"],"paddingInner":0,"paddingOuter":0},"axis":{"orient":"right","labelFontStyle":"italic"}}},"layer":[
{"transform":[{"aggregate":[{"op":"min","field":"x","as":"x0"},{"op":"max","field":"xe","as":"x1"}],"groupby":["g","st"]}],"mark":{"type":"rect"},"encoding":{"x":{"field":"x0","type":"quantitative","scale":{"domain":[-0.11,67.65],"nice":false,"zero":false},"axis":null},"x2":{"field":"x1"},"color":{"field":"st","type":"nominal","scale":{"domain":["Ctrl","Cal-a","Cal-b","Mex","Bn"],"range":["#3f9a3a","#e8202a","#f7a234","#16166e","#fff200"]},"legend":null}}},
{"transform":[{"aggregate":[{"op":"min","field":"x","as":"x0"},{"op":"max","field":"xe","as":"x1"}],"groupby":["g"]}],"mark":{"type":"rect","fillOpacity":0,"stroke":"#333","strokeWidth":1},"encoding":{"x":{"field":"x0","type":"quantitative"},"x2":{"field":"x1"}}}]},
{"width":618,"height":92,"layer":[
{"data":{"name":"hA"},"transform":[{"flatten":["v"]},{"window":[{"op":"row_number","as":"i"}],"groupby":["n"]},{"calculate":"datum.i-1+.4*(datum.i>4)+(datum.i>6)+.4*(datum.i>31)+(datum.i>36)+.4*(datum.i>48)+(datum.i>51)+.4*(datum.i>61)","as":"x"},{"calculate":"datum.x+1","as":"xe"}],"mark":{"type":"rect","stroke":"#0a1a2a","strokeWidth":0.8},"encoding":{"x":{"field":"x","type":"quantitative","scale":{"domain":[-0.11,67.65],"nice":false,"zero":false},"axis":null},"x2":{"field":"xe"},"y":{"field":"n","type":"nominal","sort":null,"scale":{"type":"band","paddingInner":0,"paddingOuter":0},"axis":{"orient":"right"}},"color":{"field":"v","type":"quantitative","scale":{"domain":[5.4,6,6.6,7.2,7.8,8.4,9,9.6,10.2,10.8,11.4,12],"range":["#000000","#00007a","#0014e0","#0a72f6","#08aef0","#00dcc4","#10f490","#84f040","#d4d400","#ffa000","#ff5000","#ff0000"]},"legend":null}}},
{"data":{"name":"sA"},"transform":[{"window":[{"op":"row_number","as":"i"}]},{"calculate":"datum.i-1+.4*(datum.i>4)+(datum.i>6)+.4*(datum.i>31)+(datum.i>36)+.4*(datum.i>48)+(datum.i>51)+.4*(datum.i>61)","as":"x"},{"calculate":"datum.x+1","as":"xe"},{"aggregate":[{"op":"min","field":"x","as":"x0"},{"op":"max","field":"xe","as":"x1"}],"groupby":["g"]}],"mark":{"type":"rect","fillOpacity":0,"stroke":"#1b6e86","strokeWidth":1.2},"encoding":{"x":{"field":"x0","type":"quantitative"},"x2":{"field":"x1"}}}]},
{"width":618,"height":11,"data":{"name":"sA"},"transform":[{"window":[{"op":"row_number","as":"i"}]},{"calculate":"datum.i-1+.4*(datum.i>4)+(datum.i>6)+.4*(datum.i>31)+(datum.i>36)+.4*(datum.i>48)+(datum.i>51)+.4*(datum.i>61)","as":"x"},{"calculate":"datum.x+1","as":"xe"},{"aggregate":[{"op":"min","field":"x","as":"x0"},{"op":"max","field":"xe","as":"x1"}],"groupby":["c"]},{"calculate":"(datum.x0+datum.x1)/2","as":"mid"}],"encoding":{"y":{"datum":"Class","type":"nominal","scale":{"type":"band","domain":["Class"],"paddingInner":0,"paddingOuter":0},"axis":{"orient":"right","labelFontStyle":"italic"}}},"layer":[
{"mark":{"type":"rect","color":"#cbcbcb"},"encoding":{"x":{"field":"x0","type":"quantitative","scale":{"domain":[-0.11,67.65],"nice":false,"zero":false},"axis":null},"x2":{"field":"x1"}}},
{"mark":{"type":"text","color":"#222"},"encoding":{"x":{"field":"mid","type":"quantitative"},"text":{"field":"c"}}}]},
{"width":10,"height":22,"data":{"values":[]},"mark":{"type":"rect"},"encoding":{}},
{"width":147,"height":14,"title":{"text":"B","anchor":"start","dx":-21,"offset":1,"fontSize":20,"font":"Liberation Sans","fontWeight":"bold","color":"#000"},"data":{"values":[{"lo":6,"hi":16}]},"transform":[{"calculate":"(datum.lo+datum.hi)/2","as":"mid"}],"encoding":{"x":{"field":"lo","type":"quantitative","scale":{"domain":[6,16],"nice":false,"zero":false},"axis":null}},"layer":[
{"mark":{"type":"rect","stroke":"#777","strokeWidth":0.8,"fill":{"gradient":"linear","x1":0,"y1":0,"x2":1,"y2":0,"stops":[{"offset":0,"color":"#00007a"},{"offset":0.1,"color":"#0014e0"},{"offset":0.2,"color":"#0a72f6"},{"offset":0.3,"color":"#08aef0"},{"offset":0.4,"color":"#00dcc4"},{"offset":0.5,"color":"#10f490"},{"offset":0.6,"color":"#84f040"},{"offset":0.7,"color":"#d4d400"},{"offset":0.8,"color":"#ffa000"},{"offset":0.9,"color":"#ff5000"},{"offset":1,"color":"#ff0000"}]}},"encoding":{"x2":{"field":"hi"}}},
{"mark":{"type":"text","align":"left","dx":4,"color":"white","fontSize":10.5},"encoding":{"text":{"field":"lo"}}},
{"mark":{"type":"text","align":"center","dx":3,"fontSize":10.5,"color":"#111"},"encoding":{"x":{"field":"mid","type":"quantitative"},"text":{"value":"norm. log2. intensity"}}},
{"mark":{"type":"text","align":"right","dx":-3,"fontSize":10.5,"color":"#111"},"encoding":{"x":{"field":"hi","type":"quantitative"},"text":{"field":"hi"}}}]},
{"width":619,"height":33,"data":{"name":"sB"},"transform":[{"window":[{"op":"row_number","as":"i"}]},{"calculate":"datum.i-.5+.44*(datum.i>4)+1.6*(datum.i>6)+.4*(datum.i>38)+1.7*(datum.i>45)+.4*(datum.i>60)","as":"xm"}],"mark":{"type":"text","angle":270,"align":"left","baseline":"middle"},"encoding":{"x":{"field":"xm","type":"quantitative","scale":{"domain":[0,68.02],"nice":false,"zero":false},"axis":null},"y":{"datum":"Sample - DPI","type":"nominal","bandPosition":1,"scale":{"type":"band","domain":["Sample - DPI"],"paddingInner":0,"paddingOuter":0},"axis":{"orient":"right","labelFontStyle":"italic"}},"text":{"field":"s"},"color":{"field":"t","type":"nominal","scale":{"domain":["m","v","o"],"range":["#111111","#3fae49","#ed2024"]},"legend":null}}},
{"width":619,"height":12,"data":{"name":"sB"},"transform":[{"window":[{"op":"row_number","as":"i"}]},{"calculate":"datum.i-.5+.44*(datum.i>4)+1.6*(datum.i>6)+.4*(datum.i>38)+1.7*(datum.i>45)+.4*(datum.i>60)","as":"xm"},{"filter":"isValid(datum.h)"}],"mark":{"type":"text","angle":270,"align":"left","baseline":"middle","color":"#111"},"encoding":{"x":{"field":"xm","type":"quantitative","scale":{"domain":[0,68.02],"nice":false,"zero":false},"axis":null},"y":{"datum":"Histo. Score","type":"nominal","bandPosition":0.87,"scale":{"type":"band","domain":["Histo. Score"],"paddingInner":0,"paddingOuter":0},"axis":{"orient":"right","labelFontStyle":"italic"}},"text":{"field":"h","type":"nominal"}}},
{"width":619,"height":6,"data":{"name":"sB"},"transform":[{"window":[{"op":"row_number","as":"i"}]},{"calculate":"datum.i-1+.44*(datum.i>4)+1.6*(datum.i>6)+.4*(datum.i>38)+1.7*(datum.i>45)+.4*(datum.i>60)","as":"x"},{"calculate":"datum.x+1","as":"xe"}],"encoding":{"y":{"datum":"Strain","type":"nominal","scale":{"type":"band","domain":["Strain"],"paddingInner":0,"paddingOuter":0},"axis":{"orient":"right","labelFontStyle":"italic"}}},"layer":[
{"transform":[{"aggregate":[{"op":"min","field":"x","as":"x0"},{"op":"max","field":"xe","as":"x1"}],"groupby":["g","st"]}],"mark":{"type":"rect"},"encoding":{"x":{"field":"x0","type":"quantitative","scale":{"domain":[0,68.02],"nice":false,"zero":false},"axis":null},"x2":{"field":"x1"},"color":{"field":"st","type":"nominal","scale":{"domain":["Ctrl","Cal-a","Cal-b","Mex","Bn"],"range":["#3f9a3a","#e8202a","#f7a234","#16166e","#fff200"]},"legend":null}}},
{"transform":[{"aggregate":[{"op":"min","field":"x","as":"x0"},{"op":"max","field":"xe","as":"x1"}],"groupby":["g"]}],"mark":{"type":"rect","fillOpacity":0,"stroke":"#333","strokeWidth":1},"encoding":{"x":{"field":"x0","type":"quantitative"},"x2":{"field":"x1"}}}]},
{"width":619,"height":63,"layer":[
{"data":{"name":"hB"},"transform":[{"flatten":["v"]},{"window":[{"op":"row_number","as":"i"}],"groupby":["n"]},{"calculate":"datum.i-1+.44*(datum.i>4)+1.6*(datum.i>6)+.4*(datum.i>38)+1.7*(datum.i>45)+.4*(datum.i>60)","as":"x"},{"calculate":"datum.x+1","as":"xe"}],"mark":{"type":"rect","stroke":"#0a1a2a","strokeWidth":0.8},"encoding":{"x":{"field":"x","type":"quantitative","scale":{"domain":[0,68.02],"nice":false,"zero":false},"axis":null},"x2":{"field":"xe"},"y":{"field":"n","type":"nominal","sort":null,"scale":{"type":"band","paddingInner":0,"paddingOuter":0},"axis":{"orient":"right"}},"color":{"field":"v","type":"quantitative","scale":{"domain":[5.4,6,7,8,9,10,11,12,13,14,15,16],"range":["#000000","#00007a","#0014e0","#0a72f6","#08aef0","#00dcc4","#10f490","#84f040","#d4d400","#ffa000","#ff5000","#ff0000"]},"legend":null}}},
{"data":{"name":"sB"},"transform":[{"window":[{"op":"row_number","as":"i"}]},{"calculate":"datum.i-1+.44*(datum.i>4)+1.6*(datum.i>6)+.4*(datum.i>38)+1.7*(datum.i>45)+.4*(datum.i>60)","as":"x"},{"calculate":"datum.x+1","as":"xe"},{"aggregate":[{"op":"min","field":"x","as":"x0"},{"op":"max","field":"xe","as":"x1"}],"groupby":["g"]}],"mark":{"type":"rect","fillOpacity":0,"stroke":"#1b6e86","strokeWidth":1.2},"encoding":{"x":{"field":"x0","type":"quantitative"},"x2":{"field":"x1"}}}]},
{"width":619,"height":13,"data":{"name":"sB"},"transform":[{"window":[{"op":"row_number","as":"i"}]},{"calculate":"datum.i-1+.44*(datum.i>4)+1.6*(datum.i>6)+.4*(datum.i>38)+1.7*(datum.i>45)+.4*(datum.i>60)","as":"x"},{"calculate":"datum.x+1","as":"xe"},{"aggregate":[{"op":"min","field":"x","as":"x0"},{"op":"max","field":"xe","as":"x1"}],"groupby":["c"]},{"calculate":"(datum.x0+datum.x1)/2","as":"mid"}],"encoding":{"y":{"datum":"Class","type":"nominal","scale":{"type":"band","domain":["Class"],"paddingInner":0,"paddingOuter":0},"axis":{"orient":"right","labelFontStyle":"italic"}}},"layer":[
{"mark":{"type":"rect","color":"#cbcbcb"},"encoding":{"x":{"field":"x0","type":"quantitative","scale":{"domain":[0,68.02],"nice":false,"zero":false},"axis":null},"x2":{"field":"x1"}}},
{"mark":{"type":"text","color":"#222"},"encoding":{"x":{"field":"mid","type":"quantitative"},"text":{"field":"c"}}}]},
{"width":10,"height":25,"data":{"values":[]},"mark":{"type":"rect"},"encoding":{}},
{"width":147,"height":14,"title":{"text":"C","anchor":"start","dx":-21,"offset":1,"fontSize":20,"font":"Liberation Sans","fontWeight":"bold","color":"#000"},"data":{"values":[{"lo":6,"hi":15}]},"transform":[{"calculate":"(datum.lo+datum.hi)/2","as":"mid"}],"encoding":{"x":{"field":"lo","type":"quantitative","scale":{"domain":[6,15],"nice":false,"zero":false},"axis":null}},"layer":[
{"mark":{"type":"rect","stroke":"#777","strokeWidth":0.8,"fill":{"gradient":"linear","x1":0,"y1":0,"x2":1,"y2":0,"stops":[{"offset":0,"color":"#00007a"},{"offset":0.1,"color":"#0014e0"},{"offset":0.2,"color":"#0a72f6"},{"offset":0.3,"color":"#08aef0"},{"offset":0.4,"color":"#00dcc4"},{"offset":0.5,"color":"#10f490"},{"offset":0.6,"color":"#84f040"},{"offset":0.7,"color":"#d4d400"},{"offset":0.8,"color":"#ffa000"},{"offset":0.9,"color":"#ff5000"},{"offset":1,"color":"#ff0000"}]}},"encoding":{"x2":{"field":"hi"}}},
{"mark":{"type":"text","align":"left","dx":4,"color":"white","fontSize":10.5},"encoding":{"text":{"field":"lo"}}},
{"mark":{"type":"text","align":"center","dx":3,"fontSize":10.5,"color":"#111"},"encoding":{"x":{"field":"mid","type":"quantitative"},"text":{"value":"norm. log2. intensity"}}},
{"mark":{"type":"text","align":"right","dx":-3,"fontSize":10.5,"color":"#111"},"encoding":{"x":{"field":"hi","type":"quantitative"},"text":{"field":"hi"}}}]},
{"width":662,"height":29,"data":{"name":"sC"},"transform":[{"window":[{"op":"row_number","as":"i"}]},{"calculate":"datum.i-.5+.66*(datum.i>4)+(datum.i>6)+.66*(datum.i>19)+(datum.i>22)+.66*(datum.i>34)+(datum.i>36)+.66*(datum.i>45)+(datum.i>47)+.66*(datum.i>50)+(datum.i>51)+.7*(datum.i>61)","as":"xm"}],"mark":{"type":"text","angle":270,"align":"left","baseline":"middle"},"encoding":{"x":{"field":"xm","type":"quantitative","scale":{"domain":[0,72.27],"nice":false,"zero":false},"axis":null},"y":{"datum":"Sample - DPI","type":"nominal","bandPosition":1,"scale":{"type":"band","domain":["Sample - DPI"],"paddingInner":0,"paddingOuter":0},"axis":{"orient":"right","labelFontStyle":"italic","labelOffset":6}},"text":{"field":"s"},"color":{"field":"t","type":"nominal","scale":{"domain":["m","v","o"],"range":["#111111","#3fae49","#ed2024"]},"legend":null}}},
{"width":662,"height":22,"data":{"name":"sC"},"transform":[{"window":[{"op":"row_number","as":"i"}]},{"calculate":"datum.i-.5+.66*(datum.i>4)+(datum.i>6)+.66*(datum.i>19)+(datum.i>22)+.66*(datum.i>34)+(datum.i>36)+.66*(datum.i>45)+(datum.i>47)+.66*(datum.i>50)+(datum.i>51)+.7*(datum.i>61)","as":"xm"},{"filter":"isValid(datum.h)"}],"mark":{"type":"text","angle":270,"align":"left","baseline":"middle","color":"#111"},"encoding":{"x":{"field":"xm","type":"quantitative","scale":{"domain":[0,72.27],"nice":false,"zero":false},"axis":null},"y":{"datum":"Histo. Score","type":"nominal","bandPosition":0.9,"scale":{"type":"band","domain":["Histo. Score"],"paddingInner":0,"paddingOuter":0},"axis":{"orient":"right","labelFontStyle":"italic","labelOffset":5}},"text":{"field":"h","type":"nominal"}}},
{"width":662,"height":6,"data":{"name":"sC"},"transform":[{"window":[{"op":"row_number","as":"i"}]},{"calculate":"datum.i-1+.66*(datum.i>4)+(datum.i>6)+.66*(datum.i>19)+(datum.i>22)+.66*(datum.i>34)+(datum.i>36)+.66*(datum.i>45)+(datum.i>47)+.66*(datum.i>50)+(datum.i>51)+.7*(datum.i>61)","as":"x"},{"calculate":"datum.x+1","as":"xe"}],"encoding":{"y":{"datum":"Strain","type":"nominal","scale":{"type":"band","domain":["Strain"],"paddingInner":0,"paddingOuter":0},"axis":{"orient":"right","labelFontStyle":"italic"}}},"layer":[
{"transform":[{"aggregate":[{"op":"min","field":"x","as":"x0"},{"op":"max","field":"xe","as":"x1"}],"groupby":["g","st"]}],"mark":{"type":"rect"},"encoding":{"x":{"field":"x0","type":"quantitative","scale":{"domain":[0,72.27],"nice":false,"zero":false},"axis":null},"x2":{"field":"x1"},"color":{"field":"st","type":"nominal","scale":{"domain":["Ctrl","Cal-a","Cal-b","Mex","Bn"],"range":["#3f9a3a","#e8202a","#f7a234","#16166e","#fff200"]},"legend":null}}},
{"transform":[{"aggregate":[{"op":"min","field":"x","as":"x0"},{"op":"max","field":"xe","as":"x1"}],"groupby":["g"]}],"mark":{"type":"rect","fillOpacity":0,"stroke":"#333","strokeWidth":1},"encoding":{"x":{"field":"x0","type":"quantitative"},"x2":{"field":"x1"}}}]},
{"width":662,"height":284,"layer":[
{"data":{"name":"hC"},"transform":[{"flatten":["v"]},{"window":[{"op":"row_number","as":"i"}],"groupby":["n"]},{"calculate":"datum.i-1+.66*(datum.i>4)+(datum.i>6)+.66*(datum.i>19)+(datum.i>22)+.66*(datum.i>34)+(datum.i>36)+.66*(datum.i>45)+(datum.i>47)+.66*(datum.i>50)+(datum.i>51)+.7*(datum.i>61)","as":"x"},{"calculate":"datum.x+1","as":"xe"}],"mark":{"type":"rect","stroke":"#0a1a2a","strokeWidth":0.8},"encoding":{"x":{"field":"x","type":"quantitative","scale":{"domain":[0,72.27],"nice":false,"zero":false},"axis":null},"x2":{"field":"xe"},"y":{"field":"n","type":"nominal","sort":null,"scale":{"type":"band","paddingInner":0,"paddingOuter":0},"axis":{"orient":"right"}},"color":{"field":"v","type":"quantitative","scale":{"domain":[5.4,6,6.9,7.8,8.7,9.6,10.5,11.4,12.3,13.2,14.1,15],"range":["#000000","#00007a","#0014e0","#0a72f6","#08aef0","#00dcc4","#10f490","#84f040","#d4d400","#ffa000","#ff5000","#ff0000"]},"legend":null}}},
{"data":{"name":"sC"},"transform":[{"window":[{"op":"row_number","as":"i"}]},{"calculate":"datum.i-1+.66*(datum.i>4)+(datum.i>6)+.66*(datum.i>19)+(datum.i>22)+.66*(datum.i>34)+(datum.i>36)+.66*(datum.i>45)+(datum.i>47)+.66*(datum.i>50)+(datum.i>51)+.7*(datum.i>61)","as":"x"},{"calculate":"datum.x+1","as":"xe"},{"aggregate":[{"op":"min","field":"x","as":"x0"},{"op":"max","field":"xe","as":"x1"}],"groupby":["g"]}],"mark":{"type":"rect","fillOpacity":0,"stroke":"#1b6e86","strokeWidth":1.2},"encoding":{"x":{"field":"x0","type":"quantitative"},"x2":{"field":"x1"}}}]},
{"width":662,"height":25,"data":{"name":"sC"},"transform":[{"window":[{"op":"row_number","as":"i"}]},{"calculate":"datum.i-1+.66*(datum.i>4)+(datum.i>6)+.66*(datum.i>19)+(datum.i>22)+.66*(datum.i>34)+(datum.i>36)+.66*(datum.i>45)+(datum.i>47)+.66*(datum.i>50)+(datum.i>51)+.7*(datum.i>61)","as":"x"},{"calculate":"datum.x+1","as":"xe"}],"layer":[
{"transform":[{"aggregate":[{"op":"min","field":"x","as":"x0"},{"op":"max","field":"xe","as":"x1"}],"groupby":["c"]},{"calculate":"(datum.x0+datum.x1)/2","as":"mid"}],"encoding":{"y":{"datum":"Class","type":"nominal","scale":{"type":"band","domain":["Class","Class2"],"paddingInner":0.08,"paddingOuter":0},"axis":{"orient":"right","labelFontStyle":"italic","labelOffset":5,"labelExpr":"datum.value=='Class'?'Class':''"}}},"layer":[
{"mark":{"type":"rect","color":"#cbcbcb"},"encoding":{"x":{"field":"x0","type":"quantitative","scale":{"domain":[0,72.27],"nice":false,"zero":false},"axis":null},"x2":{"field":"x1"}}},
{"mark":{"type":"text","color":"#222"},"encoding":{"x":{"field":"mid","type":"quantitative"},"text":{"field":"c"}}}]},
{"transform":[{"filter":"isValid(datum.d)"},{"aggregate":[{"op":"min","field":"x","as":"x0"},{"op":"max","field":"xe","as":"x1"}],"groupby":["c","d"]},{"calculate":"(datum.x0+datum.x1)/2","as":"mid"}],"encoding":{"y":{"datum":"Class2","type":"nominal"}},"layer":[
{"mark":{"type":"rect","color":"#cbcbcb"},"encoding":{"x":{"field":"x0","type":"quantitative"},"x2":{"field":"x1"}}},
{"mark":{"type":"text","color":"#222"},"encoding":{"x":{"field":"mid","type":"quantitative"},"text":{"field":"d"}}}]}]}
]}
